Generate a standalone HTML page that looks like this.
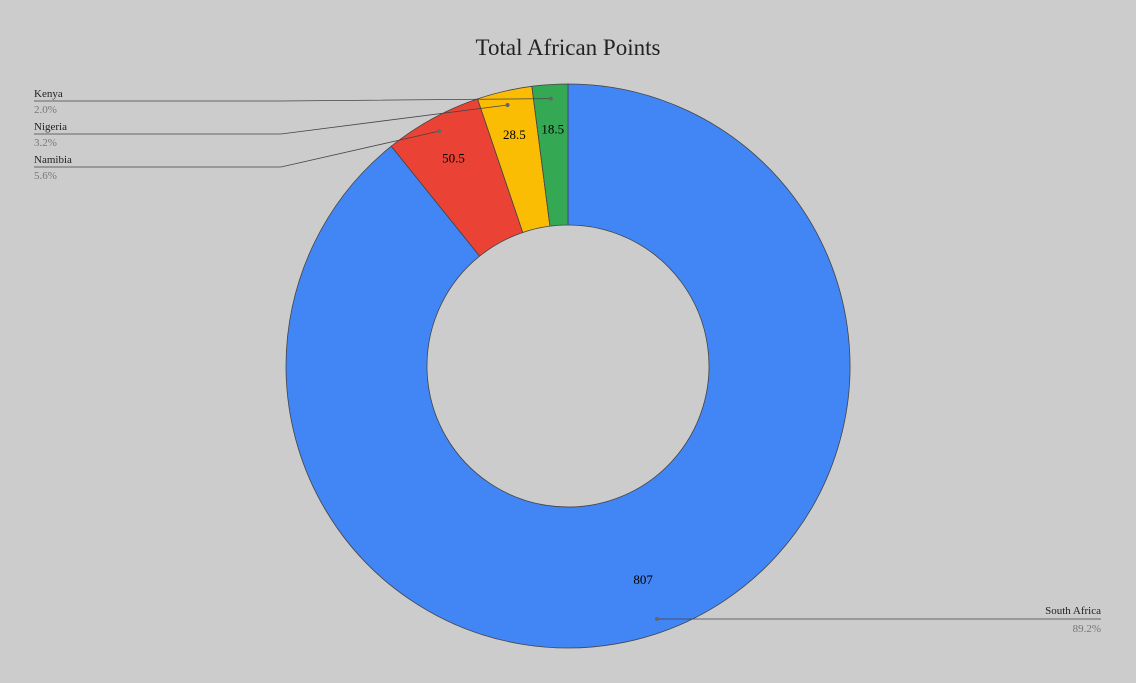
<!DOCTYPE html>
<html><head><meta charset="utf-8"><style>
body{margin:0;background:#cccccc;}
svg{display:block;font-family:"Liberation Serif",serif;}
</style></head><body>
<svg id="c" width="1136" height="683">
<rect width="1136" height="683" fill="#cccccc"/>
<text x="568" y="55" text-anchor="middle" font-size="23" fill="#222">Total African Points</text>
<g id="slices"></g><g id="labels"></g>
</svg>
<script>
const categories=["South Africa","Namibia","Nigeria","Kenya"];
const values=[807,50.5,28.5,18.5];
const pctLabels=["89.2%","5.6%","3.2%","2.0%"];
const colors=["#4285f4","#ea4335","#fbbc04","#34a853"];
const cx=568,cy=366,R=282,r=141,NS="http://www.w3.org/2000/svg";
const total=values.reduce((a,b)=>a+b,0);
const g=document.getElementById('slices'),L=document.getElementById('labels');
function pt(a,rad){return [cx+rad*Math.sin(a),cy-rad*Math.cos(a)];}
let a0=0;const mids=[];
values.forEach((v,i)=>{
  const a1=a0+v/total*2*Math.PI,big=(a1-a0)>Math.PI?1:0;
  const p1=pt(a0,R),p2=pt(a1,R),p3=pt(a1,r),p4=pt(a0,r);
  const p=document.createElementNS(NS,'path');
  p.setAttribute('d',`M${p1}A${R},${R} 0 ${big} 1 ${p2}L${p3}A${r},${r} 0 ${big} 0 ${p4}Z`);
  p.setAttribute('fill',colors[i]);p.setAttribute('stroke','#444');p.setAttribute('stroke-width','0.8');
  
  
  g.appendChild(p);
  const m=(a0+a1)/2;mids.push(m);
  const lp=pt(m,i===0?226:238);
  const t=document.createElementNS(NS,'text');
  t.setAttribute('x',lp[0]);t.setAttribute('y',lp[1]+5);t.setAttribute('text-anchor','middle');t.setAttribute('font-size','13');
  t.textContent=values[i];
  
  
  g.appendChild(t);
  a0=a1;
});
function add(tag,attrs,txt){const e=document.createElementNS(NS,tag);for(const k in attrs)e.setAttribute(k,attrs[k]);if(txt)e.textContent=txt;L.appendChild(e);return e;}
const leftOrder=[3,2,1];
leftOrder.forEach((i,k)=>{
  const y=101+k*33;
  const d=pt(mids[i],R*0.95);
  const ln=add('polyline',{points:`34,${y} 281,${y} ${d[0]},${d[1]}`,fill:'none',stroke:'#444','stroke-width':'0.8'});
  
  
  const c=add('circle',{cx:d[0],cy:d[1],r:2,fill:'#666'});
  
  
  const t1=add('text',{x:34,y:y-4,'font-size':'11',fill:'#222'},categories[i]);
  
  
  const t2=add('text',{x:34,y:y+12,'font-size':'11',fill:'#777'},pctLabels[i]);
  
  
});
const ys=619;
const dot=[657,ys];
const ln=add('line',{x1:dot[0],y1:ys,x2:1101,y2:ys,stroke:'#444','stroke-width':'0.8'});


const c=add('circle',{cx:dot[0],cy:ys,r:2,fill:'#666'});


const t1=add('text',{x:1101,y:ys-5,'font-size':'11',fill:'#222','text-anchor':'end'},categories[0]);


const t2=add('text',{x:1101,y:ys+13,'font-size':'11',fill:'#777','text-anchor':'end'},pctLabels[0]);


</script>
</body></html>
